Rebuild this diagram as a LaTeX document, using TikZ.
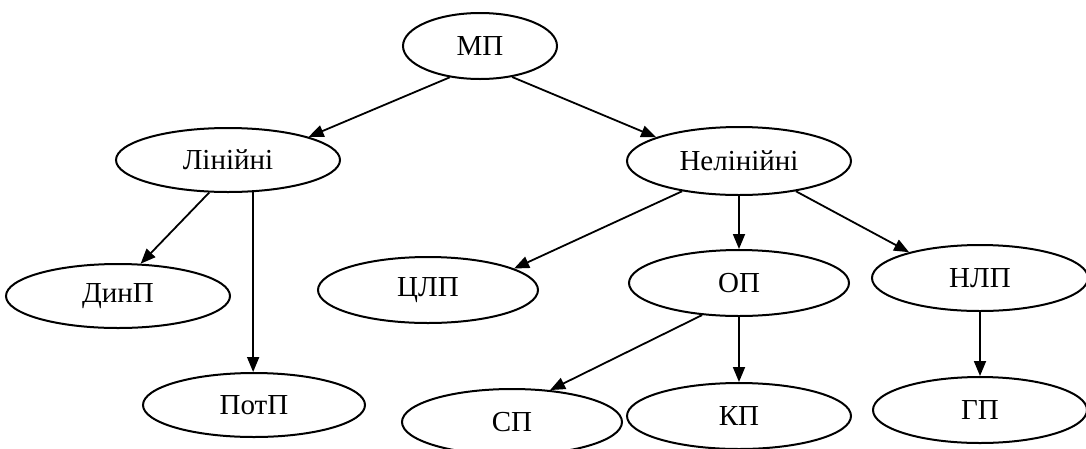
\documentclass[tikz,border=0pt]{standalone}
\usepackage{fontspec}
\setmainfont{Liberation Serif}
\usetikzlibrary{shapes.geometric,arrows.meta}
\tikzset{
  el/.style={draw, ellipse, line width=2pt, inner sep=0pt, font=\fontsize{29}{32}\selectfont},
  arr/.style={line width=1.8pt, -{Triangle[length=15pt,width=12pt]}}
}
\begin{document}
\begin{tikzpicture}[x=1pt,y=-1pt]
\useasboundingbox (0,0) rectangle (1086,448);
\node[el, minimum width=154pt, minimum height=66pt] (mp) at (480,46) {МП};
\node[el, minimum width=224pt, minimum height=64pt] (lin) at (228,160) {Лінійні};
\node[el, minimum width=224pt, minimum height=68pt] (nelin) at (739,161) {Нелінійні};
\node[el, minimum width=224pt, minimum height=64pt] (din) at (118,296) {ДинП};
\node[el, minimum width=220pt, minimum height=66pt] (clp) at (428,290) {ЦЛП};
\node[el, minimum width=220pt, minimum height=66pt] (op) at (739,283) {ОП};
\node[el, minimum width=216pt, minimum height=66pt] (nlp) at (980,278) {НЛП};
\node[el, minimum width=222pt, minimum height=64pt] (pot) at (254,405) {ПотП};
\node[el, minimum width=220pt, minimum height=66pt] (sp) at (512,422) {СП};
\node[el, minimum width=224pt, minimum height=66pt] (kp) at (739,416) {КП};
\node[el, minimum width=214pt, minimum height=66pt] (gp) at (980,410) {ГП};
\draw[arr] (mp.-134) -- (lin.16);
\draw[arr] (mp.-44) -- (nelin.164);
\draw[arr] (lin.-120) -- (din.55);
\draw[arr] (lin.-52.5) -- (lin.-52.5 |- pot.north);
\draw[arr] (nelin.-152) -- (clp.14);
\draw[arr] (nelin.south) -- (op.north);
\draw[arr] (nelin.-28) -- (nlp.160);
\draw[arr] (op.-139) -- (sp.40);
\draw[arr] (op.south) -- (kp.north);
\draw[arr] (nlp.south) -- (gp.north);
\end{tikzpicture}
\end{document}
